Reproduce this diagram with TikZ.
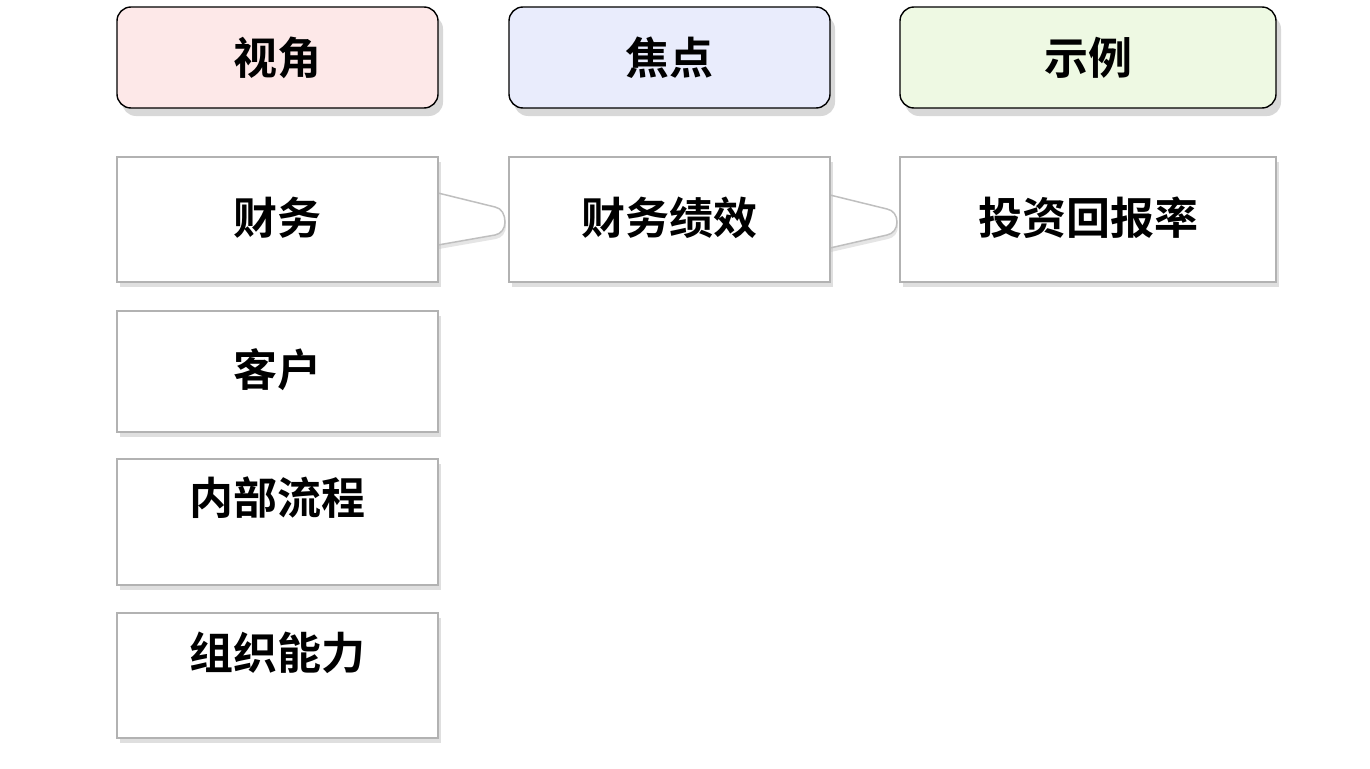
\documentclass[tikz,border=0pt]{standalone}
\usepackage{fontspec}
\setmainfont{Noto Sans CJK SC Bold}
\usetikzlibrary{shadows}
\begin{document}
\begin{tikzpicture}[x=1pt,y=-1pt,
 hdr/.style={draw=black,line width=1.4pt,rounded corners=14pt,drop shadow={shadow xshift=5pt,shadow yshift=-8pt,fill=black!30}},
 cell/.style={draw=black!30,line width=1.2pt,fill=white,drop shadow={shadow xshift=3pt,shadow yshift=-5pt,fill=black!25}},
 lbl/.style={font=\fontsize{44}{46}\selectfont},
 wedge/.style={draw=black!25,line width=1.5pt,fill=white,drop shadow={shadow xshift=1pt,shadow yshift=-4pt,fill=black!20}}]
\useasboundingbox (0,0) rectangle (1370,768);
\definecolor{pk}{HTML}{FDE8E8}\definecolor{lv}{HTML}{E9ECFC}\definecolor{gr}{HTML}{EEF9E3}
\draw[hdr,fill=pk] (117,7) rectangle (438,108);
\draw[hdr,fill=lv] (509,7) rectangle (830,108);
\draw[hdr,fill=gr] (900,7) rectangle (1276,108);
\node[lbl] (h1) at (277,58) {视角};
\node[lbl] (h2) at (669,58) {焦点};
\node[lbl] (h3) at (1088,58) {示例};
\draw[wedge] (438,193) -- (495,207) to[out=-10,in=90] (505,222) to[out=-90,in=10] (495,235) -- (438,245) -- cycle;
\draw[wedge] (830,195) -- (887,209) to[out=-10,in=90] (897,222) to[out=-90,in=10] (887,235) -- (830,248) -- cycle;
\draw[cell] (117,157) rectangle (438,282);
\draw[cell] (509,157) rectangle (830,282);
\draw[cell] (900,157) rectangle (1276,282);
\draw[cell] (117,311) rectangle (438,432);
\draw[cell] (117,459) rectangle (438,585);
\draw[cell] (117,613) rectangle (438,738);
\node[lbl] (a) at (277,218) {财务};
\node[lbl] (b) at (669,218) {财务绩效};
\node[lbl] (c) at (1088,218) {投资回报率};
\node[lbl] (d) at (277,370) {客户};
\node[lbl] (e) at (277,498) {内部流程};
\node[lbl] (f) at (277,653) {组织能力};
\end{tikzpicture}
\end{document}
